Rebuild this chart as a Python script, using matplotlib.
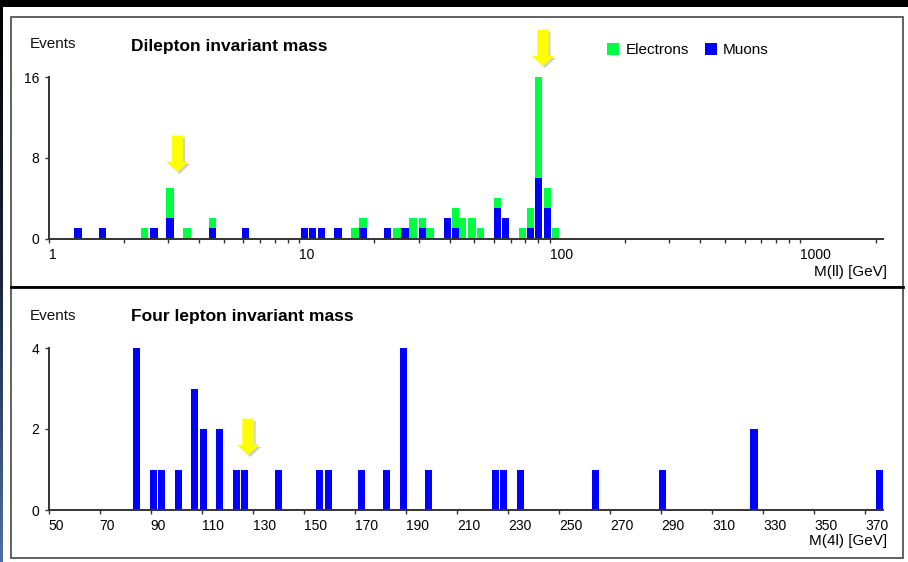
import numpy as np
import matplotlib.pyplot as plt
import matplotlib.patheffects as pe
from matplotlib.patches import Rectangle
from matplotlib.lines import Line2D
from matplotlib.colors import LinearSegmentedColormap
from matplotlib.ticker import LogLocator, NullFormatter

plt.rcParams['font.family'] = ['Liberation Sans', 'DejaVu Sans']

# dilepton invariant mass: bin centres (GeV) and events per bin
mll_centers = [1.31, 1.64, 2.42, 2.64, 3.05, 3.57, 4.50, 6.1, 10.5, 11.3, 12.3,
               14.3, 16.7, 18.0, 22.6, 24.6, 26.5, 28.5, 31.0, 33.3, 39.0, 42.0,
               45.0, 49.0, 52.9, 61.9, 66.6, 78.0, 83.9, 90.3, 98.0, 105.7]
mll_muons = [1, 1, 0, 1, 2, 0, 1, 1, 1, 1, 1,
             1, 0, 1, 1, 0, 1, 0, 1, 0, 2, 1,
             0, 0, 0, 3, 2, 0, 1, 6, 3, 0]
mll_electrons = [0, 0, 1, 0, 3, 1, 1, 0, 0, 0, 0,
                 0, 1, 1, 0, 1, 0, 2, 1, 1, 0, 2,
                 2, 2, 1, 1, 0, 1, 2, 10, 2, 1]

# four lepton invariant mass: bin centres (GeV) and events per bin
m4l_centers = [84.5, 91.2, 94.3, 101.0, 107.3, 110.8, 117.0, 123.7, 126.9,
               140.2, 156.2, 159.8, 172.7, 182.5, 189.1, 199.0, 225.2, 228.4,
               235.0, 264.3, 290.5, 326.4, 375.6]
m4l_counts = [4, 1, 1, 1, 3, 2, 2, 1, 1,
              1, 1, 1, 1, 1, 4, 1, 1, 1,
              1, 1, 1, 2, 1]

mll_ticks = [1, 10, 100, 1000]
mll_yticks = [0, 8, 16]
m4l_ticks = [50, 70, 90, 110, 130, 150, 170, 190, 210, 230, 250, 270, 290,
             310, 330, 350, 370]
m4l_yticks = [0, 2, 4]

# yellow arrows (x, tip height) pointing at J/psi, Z and the Higgs candidate
mll_arrows = [(3.27, 6.6), (94.0, 17.1)]
m4l_arrows = [(128.2, 1.36)]

W, H = 908, 562
blue = '#0000ff'
green = '#00ff40'
axis_col = '#333333'

fig = plt.figure(figsize=(W / 100, H / 100), dpi=100)
fig.patch.set_facecolor('white')


def fx(px):
    return px / W


def fy(py):
    return 1 - py / H


def style_axes(ax):
    for s in ['top', 'right']:
        ax.spines[s].set_visible(False)
    for s in ['left', 'bottom']:
        ax.spines[s].set_color(axis_col)
        ax.spines[s].set_linewidth(1.4)
    ax.tick_params(which='both', direction='out', length=3, width=1,
                   color=axis_col, labelsize=10, pad=3.6)
    ax.set_facecolor('none')


def add_arrows(ax, marks):
    for x, y in marks:
        ax.annotate('', xy=(x, y), xytext=(0, 26), textcoords='offset points',
                    annotation_clip=False,
                    arrowprops=dict(arrowstyle='simple,head_length=0.72,head_width=1.56,tail_width=0.79',
                                    mutation_scale=10, fc='#ffff00', ec='none',
                                    shrinkA=0, shrinkB=0,
                                    path_effects=[pe.withSimplePatchShadow(offset=(1.5, -1.5),
                                                                           shadow_rgbFace='#777777',
                                                                           alpha=0.35),
                                                  pe.Normal()]))


# ---- top panel: dilepton mass (log x)
ax1 = fig.add_axes([fx(48.5), fy(238.5), fx(883) - fx(48.5), fy(77) - fy(238.5)])
style_axes(ax1)
ax1.set_xscale('log')

c = np.array(mll_centers)
w = 0.0292  # bar width in decades
lefts = c * 10 ** (-w / 2)
widths = c * (10 ** (w / 2) - 10 ** (-w / 2))
mu = np.array(mll_muons)
el = np.array(mll_electrons)
b_mu = ax1.bar(lefts, mu, width=widths, align='edge', color=blue, linewidth=0)
b_el = ax1.bar(lefts, el, width=widths, bottom=mu, align='edge', color=green, linewidth=0)

ax1.set_xlim(1, 2140)
ax1.set_ylim(0, 16)
ax1.set_xticks(mll_ticks, [str(t) for t in mll_ticks], ha='left')
ax1.xaxis.set_minor_locator(LogLocator(base=10, subs=np.arange(2, 10), numticks=20))
ax1.xaxis.set_minor_formatter(NullFormatter())
ax1.set_yticks(mll_yticks)
add_arrows(ax1, mll_arrows)

ax1.legend([b_el, b_mu], ['Electrons', 'Muons'], ncol=2, frameon=False, fontsize=11,
           handlelength=0.8, handleheight=0.8, handletextpad=0.4, columnspacing=1.05,
           loc='center left', bbox_to_anchor=(fx(607), fy(50)),
           bbox_transform=fig.transFigure, borderpad=0, borderaxespad=0)

fig.text(fx(30), fy(44), 'Events', fontsize=11, va='center', color='#111111')
fig.text(fx(131), fy(46), 'Dilepton invariant mass', fontsize=12.5,
         fontweight='bold', va='center')
fig.text(fx(887), fy(271.5), 'M(ll) [GeV]', fontsize=11, ha='right', va='center')

# ---- bottom panel: four lepton mass
ax2 = fig.add_axes([fx(48.5), fy(510), fx(883) - fx(48.5), fy(348) - fy(510)])
style_axes(ax2)
ax2.bar(m4l_centers, m4l_counts, width=2.86, color=blue, linewidth=0)
ax2.set_xlim(50, 377)
ax2.set_ylim(0, 4)
ax2.set_xticks(m4l_ticks, [str(t) for t in m4l_ticks], ha='left')
ax2.set_yticks(m4l_yticks)
add_arrows(ax2, m4l_arrows)

fig.text(fx(30), fy(316), 'Events', fontsize=11, va='center', color='#111111')
fig.text(fx(131), fy(317), 'Four lepton invariant mass', fontsize=12.5,
         fontweight='bold', va='center')
fig.text(fx(887), fy(541.5), 'M(4l) [GeV]', fontsize=11, ha='right', va='center')

# ---- panel frames and slide border
fig.add_artist(Rectangle((fx(10.5), fy(287)), fx(903) - fx(10.5), fy(16.5) - fy(287),
                         transform=fig.transFigure, fill=False, ec='#555555', lw=1.3))
fig.add_artist(Rectangle((fx(10.5), fy(557.5)), fx(903) - fx(10.5), fy(287) - fy(557.5),
                         transform=fig.transFigure, fill=False, ec='#555555', lw=1.3))
fig.add_artist(Line2D([fx(10.5), fx(903)], [fy(287.3)] * 2, color='black', lw=2.0,
                      transform=fig.transFigure))
fig.add_artist(Rectangle((0, fy(7)), 1, 7 / H, transform=fig.transFigure,
                         color='black', lw=0))

strip = fig.add_axes([0, 0, fx(3), fy(7)])
strip_cmap = LinearSegmentedColormap.from_list('strip', ['#000000', '#1a2640', '#4f6ea3'])
strip.imshow(np.linspace(0, 1, 100).reshape(-1, 1), aspect='auto', cmap=strip_cmap)
strip.axis('off')

fig.savefig('out.png', dpi=100)
